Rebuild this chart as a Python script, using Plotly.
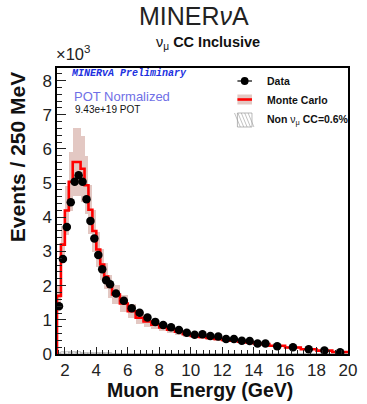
import plotly.graph_objects as go

# ---------------- data (values in units of 10^3 events / 250 MeV) ----------------
bin_edges = [1.5, 1.75, 2.0, 2.25, 2.5, 2.75, 3.0, 3.25, 3.5, 3.75, 4.0, 4.25, 4.5, 4.75,
             5.0, 5.5, 6.0, 6.5, 7.0, 7.5, 8.0, 8.5, 9.0, 9.5, 10.0, 10.5, 11.0, 11.5,
             12.0, 12.5, 13.0, 13.5, 14.0, 14.5, 15.0, 16.0, 17.0, 18.0, 19.0, 20.0]

data_values = [1.40, 2.78, 3.72, 4.44, 5.04, 5.23, 5.04, 4.53, 3.89, 3.38, 2.90, 2.48, 2.16, 2.04,
               1.77, 1.56, 1.34, 1.21, 1.07, 0.94, 0.85, 0.78, 0.70, 0.62, 0.56, 0.58, 0.53, 0.51,
               0.44, 0.44, 0.39, 0.38, 0.31, 0.31, 0.23, 0.20, 0.14, 0.10, 0.05]

mc_values = [1.70, 3.20, 4.20, 5.04, 5.62, 5.62, 5.42, 4.94, 4.22, 3.60, 3.06, 2.62, 2.27, 1.98,
             1.74, 1.48, 1.25, 1.06, 0.95, 0.86, 0.78, 0.71, 0.65, 0.58, 0.53, 0.50, 0.47, 0.44,
             0.41, 0.39, 0.36, 0.34, 0.31, 0.29, 0.24, 0.19, 0.14, 0.10, 0.06]

mc_band_err = [0.28, 0.55, 0.72, 0.86, 1.00, 1.00, 0.96, 0.85, 0.72, 0.61, 0.52, 0.45, 0.38, 0.33,
               0.29, 0.24, 0.20, 0.17, 0.15, 0.13, 0.12, 0.10, 0.09, 0.08, 0.07, 0.07, 0.06, 0.06,
               0.05, 0.05, 0.05, 0.04, 0.04, 0.04, 0.03, 0.03, 0.02, 0.02, 0.01]

non_cc_values = [0.04, 0.05, 0.05, 0.05, 0.05, 0.05, 0.04, 0.04, 0.03, 0.03, 0.02, 0.02, 0.02, 0.02,
                 0.01, 0.01, 0.01, 0.01, 0.01, 0.01, 0.01, 0.01, 0.01, 0.01, 0.01, 0.01, 0.01, 0.01,
                 0.01, 0.01, 0.01, 0.01, 0.01, 0.01, 0.01, 0.01, 0.01, 0.01, 0.01]

x_ticks = [2, 4, 6, 8, 10, 12, 14, 16, 18, 20]
y_ticks = [0, 1, 2, 3, 4, 5, 6, 7, 8]

# ---------------- derived ----------------
centers = [(a + b) / 2 for a, b in zip(bin_edges[:-1], bin_edges[1:])]
widths = [b - a for a, b in zip(bin_edges[:-1], bin_edges[1:])]
band_base = [m - e for m, e in zip(mc_values, mc_band_err)]
band_height = [2 * e for e in mc_band_err]

step_x = [bin_edges[0]] + bin_edges
step_y = [0] + mc_values + [mc_values[-1]]

fig = go.Figure()

fig.add_trace(go.Bar(x=centers, y=band_height, base=band_base, width=widths,
                     marker=dict(color="rgba(200,145,135,0.5)", line=dict(width=0)),
                     showlegend=False, hoverinfo="skip"))

fig.add_trace(go.Bar(x=centers, y=non_cc_values, width=widths,
                     marker=dict(color="white", line=dict(width=0.5, color="#888"),
                                 pattern=dict(shape="\\", fgcolor="#777", size=4, solidity=0.3)),
                     showlegend=False, hoverinfo="skip"))

fig.add_trace(go.Scatter(x=step_x, y=step_y, mode="lines",
                         line=dict(color="#ff0000", width=2.6, shape="hv"),
                         showlegend=False, hoverinfo="skip"))

fig.add_trace(go.Scatter(x=centers, y=data_values, mode="markers",
                         marker=dict(color="black", size=8.5, symbol="circle"),
                         showlegend=False))

# plot area in pixels: x 57..357, y 68..354
L, R, T, B = 57, 357, 68, 354
W, H = R - L, B - T


def px(x):
    return (x - L) / W


def py(y):
    return (B - y) / H


font_main = "Liberation Sans, Arial, sans-serif"

annotations = [
    dict(text="MINER<i>ν</i>A", x=px(198), y=py(16), font=dict(size=25, color="#222", family=font_main)),
    dict(text="ν<sub>μ</sub> <b>CC Inclusive</b>", x=px(213), y=py(43),
         font=dict(size=14.5, color="#111", family=font_main)),
    dict(text="×10<sup>3</sup>", x=px(54), y=py(53), xanchor="left",
         font=dict(size=16.5, color="#222", family=font_main)),
    dict(text="<b><i>MINERvA Preliminary</i></b>", x=px(69), y=py(73), xanchor="left",
         font=dict(size=10, color="#2030e0", family="Liberation Mono, Courier New, monospace")),
    dict(text="POT Normalized", x=px(72), y=py(96), xanchor="left",
         font=dict(size=13, color="#6f6fe6", family=font_main)),
    dict(text="9.43e+19 POT", x=px(73), y=py(109), xanchor="left",
         font=dict(size=10, color="#111", family=font_main)),
    dict(text="<b>Data</b>", x=px(271), y=py(81), xanchor="left",
         font=dict(size=10.5, color="#111", family=font_main)),
    dict(text="<b>Monte Carlo</b>", x=px(271), y=py(100), xanchor="left",
         font=dict(size=10.5, color="#111", family=font_main)),
    dict(text="<b>Non </b>ν<sub>μ</sub><b> CC=0.6%</b>", x=px(271), y=py(120), xanchor="left",
         font=dict(size=10.5, color="#111", family=font_main)),
    dict(text="<b>Events / 250 MeV</b>", x=px(16), y=py(157), textangle=-90,
         font=dict(size=21, color="#111", family=font_main)),
    dict(text="<b>Muon  Energy (GeV)</b>", x=px(204), y=py(390),
         font=dict(size=19.5, color="#111", family=font_main)),
]
for a in annotations:
    a.update(xref="paper", yref="paper", showarrow=False)
    a.setdefault("xanchor", "center")
    a.setdefault("yanchor", "middle")

shapes = []
# legend glyphs (paper coords)
shapes.append(dict(type="line", x0=px(243), x1=px(258), y0=py(81), y1=py(81), line=dict(color="black", width=1.2)))
shapes.append(dict(type="circle", x0=px(246.5), x1=px(254.5), y0=py(85), y1=py(77),
                   fillcolor="black", line=dict(width=0)))
shapes.append(dict(type="rect", x0=px(243), x1=px(258), y0=py(104.5), y1=py(94.5),
                   fillcolor="rgba(200,145,135,0.5)", line=dict(width=0)))
shapes.append(dict(type="line", x0=px(243), x1=px(258), y0=py(99.5), y1=py(99.5), line=dict(color="#ff0000", width=2.6)))
shapes.append(dict(type="rect", x0=px(243), x1=px(258), y0=py(127), y1=py(113),
                   fillcolor="white", line=dict(width=0.6, color="#888")))
for k in range(5):
    x0 = 243 + k * 3.5
    shapes.append(dict(type="line", x0=px(x0 - 3), x1=px(x0 + 3), y0=py(113), y1=py(127),
                       line=dict(color="#999", width=0.6)))
for s in shapes:
    s.update(xref="paper", yref="paper")

fig.update_layout(
    width=367, height=404,
    margin=dict(l=L, r=367 - R, t=T, b=404 - B, pad=0),
    paper_bgcolor="white", plot_bgcolor="white",
    barmode="overlay", bargap=0, showlegend=False,
    annotations=annotations, shapes=shapes,
    font=dict(family=font_main, color="#222"),
)
fig.update_xaxes(range=[1.5, 20], tickvals=x_ticks, ticktext=[str(v) for v in x_ticks],
                 ticks="inside", ticklen=7, tickwidth=1, tickcolor="#222",
                 minor=dict(dtick=0.4, tick0=2, ticks="inside", ticklen=4, tickcolor="#222"),
                 showline=True, linecolor="black", linewidth=1.5, mirror=True,
                 showgrid=False, zeroline=False, tickfont=dict(size=17, color="#222"))
fig.update_yaxes(range=[0, 8.37], tickvals=y_ticks, ticktext=[str(v) for v in y_ticks],
                 ticks="inside", ticklen=9, tickwidth=1, tickcolor="#222",
                 minor=dict(dtick=0.2, tick0=0, ticks="inside", ticklen=5, tickcolor="#222"),
                 showline=True, linecolor="black", linewidth=1.5, mirror=True,
                 showgrid=False, zeroline=False, tickfont=dict(size=17, color="#222"))

fig.write_html("out.html")
